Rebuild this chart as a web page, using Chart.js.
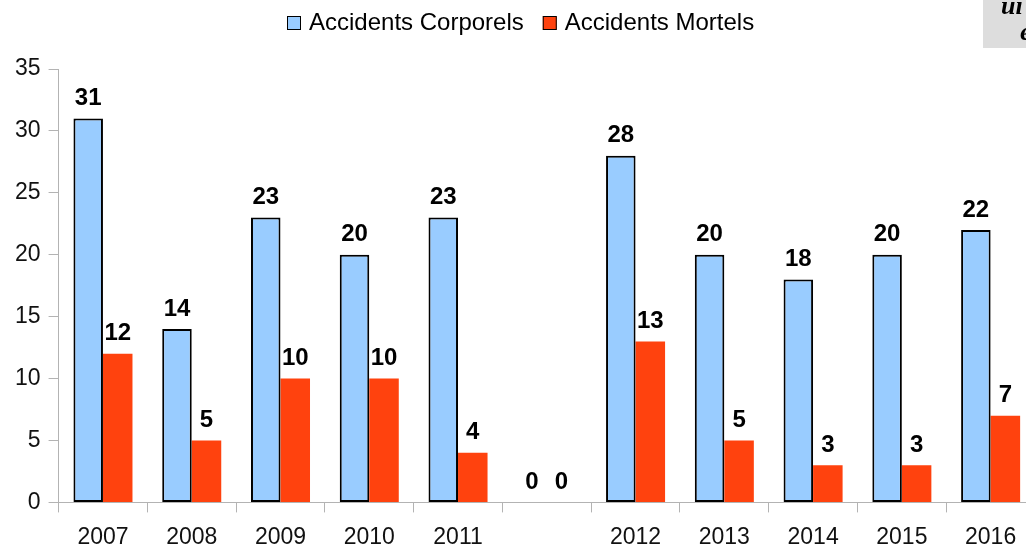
<!DOCTYPE html>
<html>
<head>
<meta charset="utf-8">
<script src="https://cdn.jsdelivr.net/npm/chart.js@4/dist/chart.umd.min.js"></script>
<style>
  html, body { margin: 0; padding: 0; background: #fff; overflow: hidden; }
  #wrap { width: 1037px; height: 547px; position: relative; }
</style>
</head>
<body>
<div id="wrap"><canvas id="graf"></canvas></div>
<script>
const annees = ["2007", "2008", "2009", "2010", "2011", "", "2012", "2013", "2014", "2015", "2016"];
const corporels = [31, 14, 23, 20, 23, 0, 28, 20, 18, 20, 22];
const mortels = [12, 5, 10, 10, 4, 0, 13, 5, 3, 3, 7];
const ticksY = [0, 5, 10, 15, 20, 25, 30, 35];

const police = "'Liberation Sans', Arial, sans-serif";

// étiquettes de valeurs au-dessus des barres
const etiquettes = {
  id: "etiquettes",
  afterDatasetsDraw(chart) {
    const ctx = chart.ctx;
    ctx.save();
    ctx.font = "bold 24px " + police;
    ctx.fillStyle = "#000";
    ctx.textAlign = "center";
    ctx.textBaseline = "bottom";
    chart.data.datasets.forEach((ds, i) => {
      chart.getDatasetMeta(i).data.forEach((bar, j) => {
        ctx.fillText(String(ds.data[j]), bar.x, bar.y - 8);
      });
    });
    ctx.restore();
  }
};

// légende dessinée à la main (en haut)
const legende = {
  id: "legende",
  afterDraw(chart) {
    const ctx = chart.ctx;
    ctx.save();
    ctx.font = "24px " + police;
    ctx.textBaseline = "middle";
    const box = 14, gapTxt = 8, gapItem = 19, y = 23;
    let x = 287;
    chart.data.datasets.forEach(ds => {
      ctx.fillStyle = ds.backgroundColor;
      ctx.fillRect(x, y - box / 2, box, box);
      ctx.strokeStyle = "#000";
      ctx.lineWidth = 1;
      ctx.strokeRect(x + 0.5, y - box / 2 + 0.5, box - 1, box - 1);
      x += box + gapTxt;
      ctx.fillStyle = "#000";
      ctx.fillText(ds.label, x, y);
      x += ctx.measureText(ds.label).width + gapItem;
    });
    ctx.restore();
  }
};

// petit cadre gris coupé en haut à droite
const cadre = {
  id: "cadre",
  afterDraw(chart) {
    const ctx = chart.ctx;
    ctx.save();
    ctx.fillStyle = "#dddddd";
    ctx.fillRect(983, 0, 60, 48);
    ctx.fillStyle = "#000";
    ctx.font = "italic bold 26px 'Liberation Serif', serif";
    ctx.textAlign = "left";
    ctx.fillText("ui", 1001, 14);
    ctx.fillText("é", 1020, 40);
    ctx.restore();
  }
};

new Chart(document.getElementById("graf"), {
  type: "bar",
  data: {
    labels: annees,
    datasets: [
      {
        label: "Accidents Corporels",
        data: corporels,
        backgroundColor: "#99ccff",
        borderColor: "#000",
        borderWidth: 2,
        borderSkipped: false,
        categoryPercentage: 0.665,
        barPercentage: 1.0
      },
      {
        label: "Accidents Mortels",
        data: mortels,
        backgroundColor: "#ff420e",
        borderColor: "#ff420e",
        borderWidth: 0,
        categoryPercentage: 0.665,
        barPercentage: 1.0
      }
    ]
  },
  options: {
    responsive: true,
    maintainAspectRatio: false,
    animation: false,
    layout: { padding: { left: 7, right: 2, top: 69, bottom: -15 } },
    plugins: {
      legend: { display: false },
      tooltip: { enabled: false }
    },
    scales: {
      x: {
        grid: { drawOnChartArea: false, drawTicks: true, tickLength: 10, color: "#b3b3b3" },
        border: { color: "#b3b3b3", width: 1 },
        ticks: { color: "#111", font: { family: police, size: 23 }, padding: 11 }
      },
      y: {
        min: 0,
        max: 35,
        afterBuildTicks(scale) { scale.ticks = ticksY.map(v => ({ value: v })); },
        grid: { drawOnChartArea: false, drawTicks: true, tickLength: 10, color: "#b3b3b3" },
        border: { color: "#b3b3b3", width: 1 },
        ticks: { color: "#111", font: { family: police, size: 23 }, padding: 8 }
      }
    }
  },
  plugins: [etiquettes, legende, cadre]
});
</script>
</body>
</html>
